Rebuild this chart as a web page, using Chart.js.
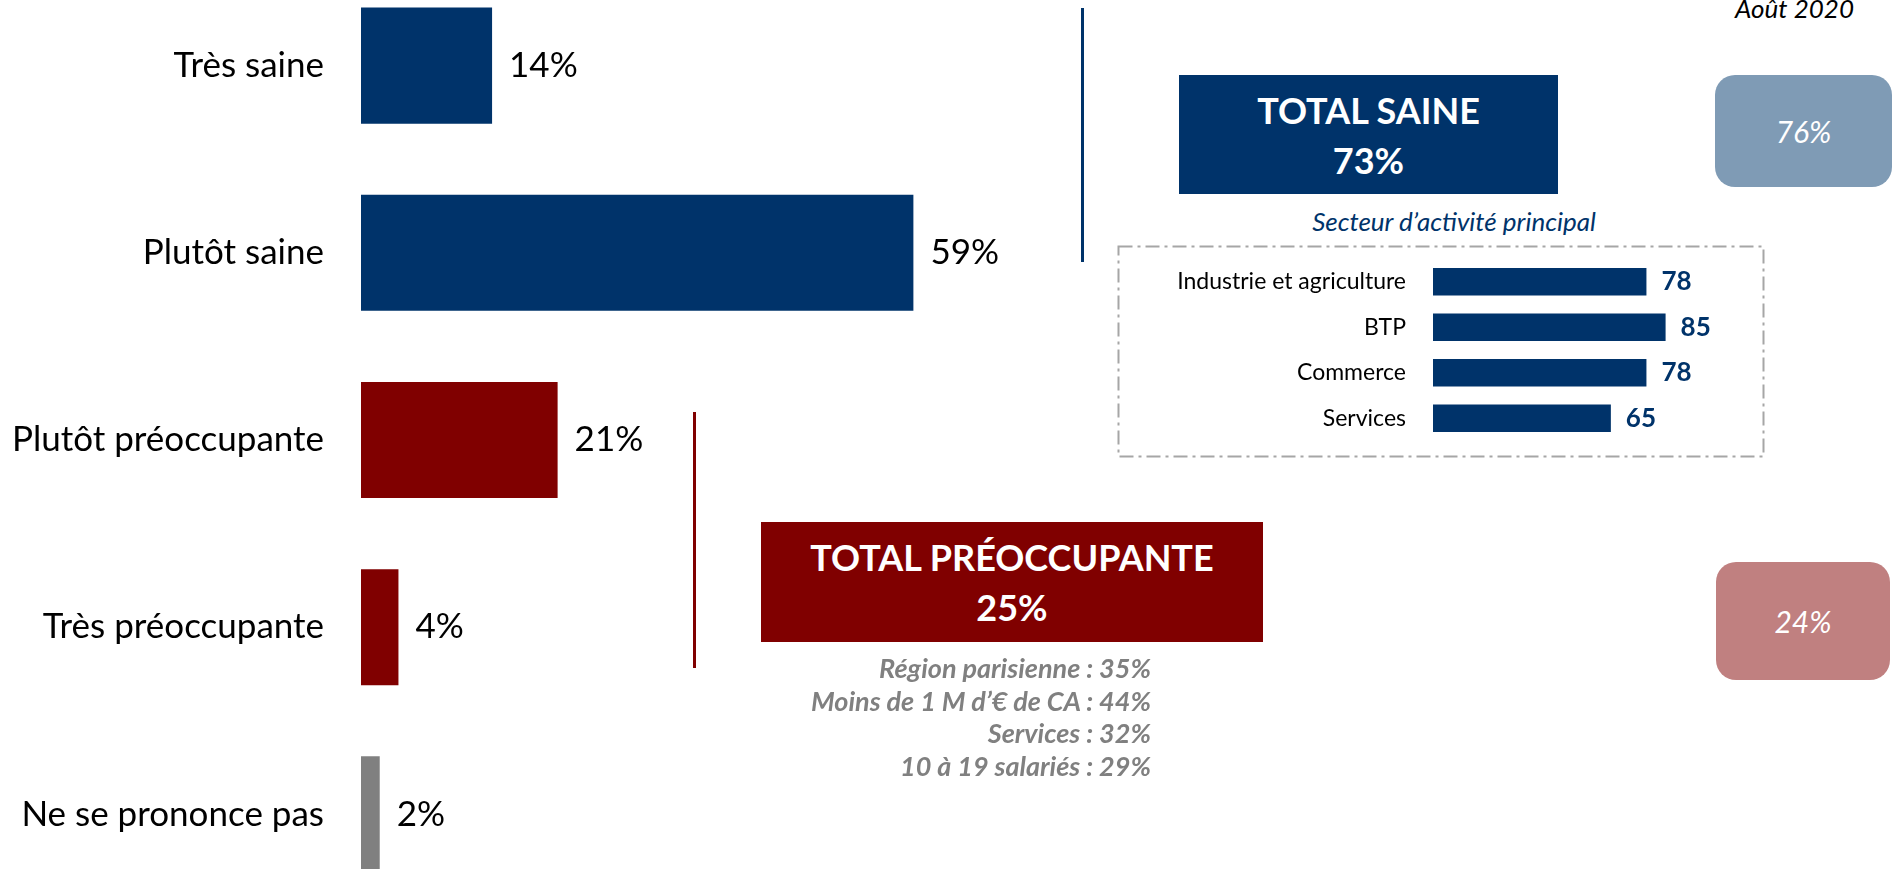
<!DOCTYPE html>
<html>
<head>
<meta charset="utf-8">
<script src="https://cdn.jsdelivr.net/npm/chart.js@4"></script>
<style>
  body { margin: 0; width: 1900px; height: 869px; overflow: hidden; background: #fff; position: relative;
         font-family: Lato, "DejaVu Sans Condensed", sans-serif; }
  .abs { position: absolute; }
  #mainWrap { left: 0; top: -28px; width: 1110px; height: 936px; }
  #subWrap { left: 1130px; top: 259px; width: 604px; height: 182px; }
  .vline { width: 3px; }
  .total { color: #fff; font-weight: bold; font-size: 36px; text-align: center;
           display: flex; flex-direction: column; justify-content: center; line-height: 50px; }
  .prev { color: #fff; font-style: italic; font-size: 30px; border-radius: 20px;
          display: flex; align-items: center; justify-content: center; }
  #details { right: 749px; top: 652px; text-align: right; color: #808080; font-weight: bold;
             font-style: italic; font-size: 27px; line-height: 32.7px; }
</style>
</head>
<body>
<div class="abs" id="mainWrap"><canvas id="mainChart" width="1110" height="936"></canvas></div>

<div class="abs" style="right:46px; top:-5px; font-style:italic; font-size:26px; line-height:1;">Août 2020</div>

<div class="abs vline" style="left:1081px; top:8px; height:254px; background:#00336A;"></div>
<div class="abs total" id="boxSaine" style="left:1179px; top:75px; width:379px; height:119px; background:#00336A;"></div>
<div class="abs prev" id="prevSaine" style="left:1715px; top:75px; width:177px; height:112px; background:#7F9BB5;"></div>

<div class="abs" style="left:1254px; top:205px; width:400px; text-align:center; font-style:italic; font-size:26px; color:#00336A;">Secteur d’activité principal</div>
<svg class="abs" style="left:1117px; top:245px;" width="648" height="213">
  <rect x="1.5" y="1.5" width="645" height="210" fill="none" stroke="#A6A6A6" stroke-width="2" stroke-dasharray="14 5 3 5"></rect>
</svg>
<div class="abs" id="subWrap"><canvas id="subChart" width="604" height="182"></canvas></div>

<div class="abs vline" style="left:693px; top:412px; height:256px; background:#800000;"></div>
<div class="abs total" id="boxPreo" style="left:761px; top:522px; width:502px; height:120px; background:#800000;"></div>
<div class="abs" id="details"></div>
<div class="abs prev" id="prevPreo" style="left:1716px; top:562px; width:174px; height:118px; background:#C08080;"></div>

<script>
// main distribution
var categories = ["Très saine", "Plutôt saine", "Plutôt préoccupante", "Très préoccupante", "Ne se prononce pas"];
var values = [14, 59, 21, 4, 2];
var barColors = ["#00336A", "#00336A", "#800000", "#800000", "#808080"];

// sector breakdown (total saine)
var sectorLabels = ["Industrie et agriculture", "BTP", "Commerce", "Services"];
var sectorValues = [78, 85, 78, 65];

// totals and previous wave
var totalSaine = 73;
var totalPreoccupante = 25;
var prevSaine = 76;
var prevPreoccupante = 24;
var detailLines = ["Région parisienne : 35%", "Moins de 1 M d’€ de CA : 44%", "Services : 32%", "10 à 19 salariés : 29%"];

var fontFamily = 'Lato, "DejaVu Sans Condensed", sans-serif';

// draws the value next to each bar
var valueLabels = {
  id: "valueLabels",
  afterDatasetsDraw: function(chart, args, opts) {
    var ctx = chart.ctx;
    var data = chart.data.datasets[0].data;
    ctx.save();
    ctx.font = opts.font;
    ctx.fillStyle = opts.color;
    ctx.textAlign = "left";
    ctx.textBaseline = "middle";
    chart.getDatasetMeta(0).data.forEach(function(bar, i) {
      ctx.fillText(data[i] + opts.suffix, bar.x + opts.offset, bar.y);
    });
    ctx.restore();
  }
};

// fixed label column, no extra vertical padding
function fixWidth(w) {
  return function(scale) {
    scale.width = w;
    scale.paddingTop = 0;
    scale.paddingBottom = 0;
  };
}

new Chart(document.getElementById("mainChart"), {
  type: "bar",
  data: {
    labels: categories,
    datasets: [{ data: values, backgroundColor: barColors, barPercentage: 0.62, categoryPercentage: 1 }]
  },
  options: {
    indexAxis: "y",
    responsive: false,
    animation: false,
    devicePixelRatio: 1,
    layout: { padding: 0 },
    plugins: {
      legend: { display: false },
      tooltip: { enabled: false },
      valueLabels: { font: "35px " + fontFamily, color: "#000", suffix: "%", offset: 17 }
    },
    scales: {
      x: { display: false, min: 0, max: 80 },
      y: {
        grid: { display: false, drawTicks: false },
        border: { display: false },
        ticks: { color: "#000", padding: 37, font: { family: fontFamily, size: 35 } },
        afterFit: fixWidth(361)
      }
    }
  },
  plugins: [valueLabels]
});

new Chart(document.getElementById("subChart"), {
  type: "bar",
  data: {
    labels: sectorLabels,
    datasets: [{ data: sectorValues, backgroundColor: "#00336A", barPercentage: 0.6, categoryPercentage: 1 }]
  },
  options: {
    indexAxis: "y",
    responsive: false,
    animation: false,
    devicePixelRatio: 1,
    layout: { padding: 0 },
    plugins: {
      legend: { display: false },
      tooltip: { enabled: false },
      valueLabels: { font: "bold 26px " + fontFamily, color: "#00336A", suffix: "", offset: 15 }
    },
    scales: {
      x: { display: false, min: 0, max: 110 },
      y: {
        grid: { display: false, drawTicks: false },
        border: { display: false },
        ticks: { color: "#000", padding: 27, font: { family: fontFamily, size: 23 } },
        afterFit: fixWidth(303)
      }
    }
  },
  plugins: [valueLabels]
});

document.getElementById("boxSaine").innerHTML = "<div>TOTAL SAINE</div><div>" + totalSaine + "%</div>";
document.getElementById("boxPreo").innerHTML = "<div>TOTAL PRÉOCCUPANTE</div><div>" + totalPreoccupante + "%</div>";
document.getElementById("prevSaine").textContent = prevSaine + "%";
document.getElementById("prevPreo").textContent = prevPreoccupante + "%";
document.getElementById("details").innerHTML = detailLines.map(function(l) { return "<div>" + l + "</div>"; }).join("");
</script>
</body>
</html>
